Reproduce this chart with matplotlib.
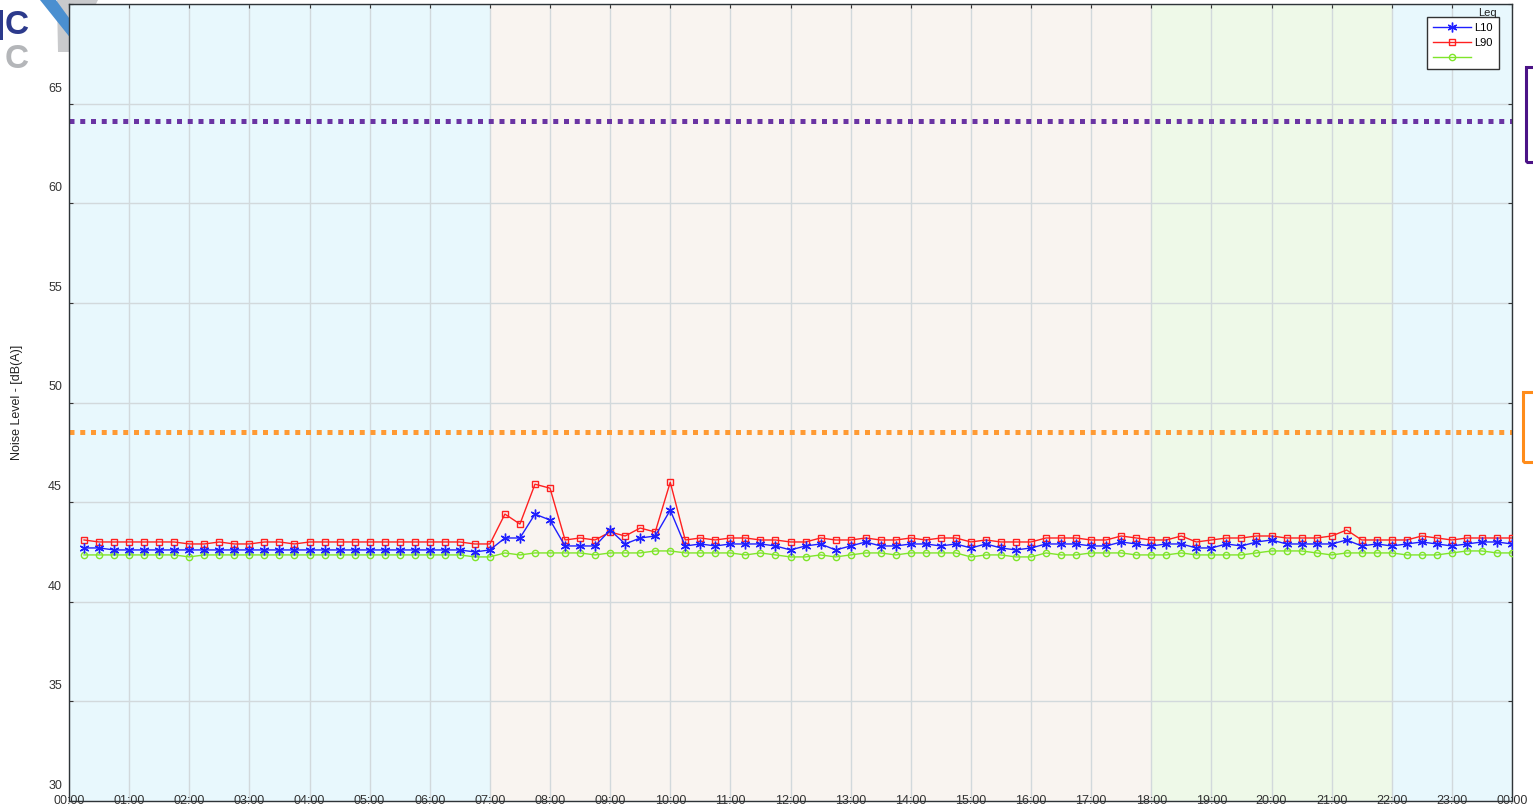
import numpy as np
import matplotlib
matplotlib.use("Agg")
import matplotlib.pyplot as plt
from matplotlib import transforms
from matplotlib.patches import Rectangle, Polygon

plt.rcParams['font.family'] = ['Liberation Sans', 'DejaVu Sans']

# ---------------- data ----------------
# 15-minute intervals, 00:15 ... 24:00 (hours)
times_h = [0.25, 0.5, 0.75, 1.0, 1.25, 1.5, 1.75, 2.0, 2.25, 2.5, 2.75, 3.0,
           3.25, 3.5, 3.75, 4.0, 4.25, 4.5, 4.75, 5.0, 5.25, 5.5, 5.75, 6.0,
           6.25, 6.5, 6.75, 7.0, 7.25, 7.5, 7.75, 8.0, 8.25, 8.5, 8.75, 9.0,
           9.25, 9.5, 9.75, 10.0, 10.25, 10.5, 10.75, 11.0, 11.25, 11.5, 11.75, 12.0,
           12.25, 12.5, 12.75, 13.0, 13.25, 13.5, 13.75, 14.0, 14.25, 14.5, 14.75, 15.0,
           15.25, 15.5, 15.75, 16.0, 16.25, 16.5, 16.75, 17.0, 17.25, 17.5, 17.75, 18.0,
           18.25, 18.5, 18.75, 19.0, 19.25, 19.5, 19.75, 20.0, 20.25, 20.5, 20.75, 21.0,
           21.25, 21.5, 21.75, 22.0, 22.25, 22.5, 22.75, 23.0, 23.25, 23.5, 23.75, 24.0]

L10 = [42.7, 42.7, 42.6, 42.6, 42.6, 42.6, 42.6, 42.6, 42.6, 42.6, 42.6, 42.6,
       42.6, 42.6, 42.6, 42.6, 42.6, 42.6, 42.6, 42.6, 42.6, 42.6, 42.6, 42.6,
       42.6, 42.6, 42.5, 42.6, 43.2, 43.2, 44.4, 44.1, 42.8, 42.8, 42.8, 43.6,
       42.9, 43.2, 43.3, 44.6, 42.8, 42.9, 42.8, 42.9, 42.9, 42.9, 42.8, 42.6,
       42.8, 42.9, 42.6, 42.8, 43.0, 42.8, 42.8, 42.9, 42.9, 42.8, 42.9, 42.7,
       42.9, 42.7, 42.6, 42.7, 42.9, 42.9, 42.9, 42.8, 42.8, 43.0, 42.9, 42.8,
       42.9, 42.9, 42.7, 42.7, 42.9, 42.8, 43.0, 43.1, 42.9, 42.9, 42.9, 42.9,
       43.1, 42.8, 42.9, 42.8, 42.9, 43.0, 42.9, 42.8, 42.9, 43.0, 43.0, 42.9]

L90 = [43.1, 43.0, 43.0, 43.0, 43.0, 43.0, 43.0, 42.9, 42.9, 43.0, 42.9, 42.9,
       43.0, 43.0, 42.9, 43.0, 43.0, 43.0, 43.0, 43.0, 43.0, 43.0, 43.0, 43.0,
       43.0, 43.0, 42.9, 42.9, 44.4, 43.9, 45.9, 45.7, 43.1, 43.2, 43.1, 43.5,
       43.3, 43.7, 43.5, 46.0, 43.1, 43.2, 43.1, 43.2, 43.2, 43.1, 43.1, 43.0,
       43.0, 43.2, 43.1, 43.1, 43.2, 43.1, 43.1, 43.2, 43.1, 43.2, 43.2, 43.0,
       43.1, 43.0, 43.0, 43.0, 43.2, 43.2, 43.2, 43.1, 43.1, 43.3, 43.2, 43.1,
       43.1, 43.3, 43.0, 43.1, 43.2, 43.2, 43.3, 43.3, 43.2, 43.2, 43.2, 43.3,
       43.6, 43.1, 43.1, 43.1, 43.1, 43.3, 43.2, 43.1, 43.2, 43.2, 43.2, 43.2]

Leq = [42.35, 42.35, 42.35, 42.35, 42.35, 42.35, 42.35, 42.25, 42.35, 42.35, 42.35, 42.35,
       42.35, 42.35, 42.35, 42.35, 42.35, 42.35, 42.35, 42.35, 42.35, 42.35, 42.35, 42.35,
       42.35, 42.35, 42.25, 42.25, 42.45, 42.35, 42.45, 42.45, 42.45, 42.45, 42.35, 42.45,
       42.45, 42.45, 42.55, 42.55, 42.45, 42.45, 42.45, 42.45, 42.35, 42.45, 42.35, 42.25,
       42.25, 42.35, 42.25, 42.35, 42.45, 42.45, 42.35, 42.45, 42.45, 42.45, 42.45, 42.25,
       42.35, 42.35, 42.25, 42.25, 42.45, 42.35, 42.35, 42.45, 42.45, 42.45, 42.35, 42.35,
       42.35, 42.45, 42.35, 42.35, 42.35, 42.35, 42.45, 42.55, 42.55, 42.55, 42.45, 42.35,
       42.45, 42.45, 42.45, 42.45, 42.35, 42.35, 42.35, 42.45, 42.55, 42.55, 42.45, 42.45]

limit_upper = 64.15
limit_lower = 48.5

# background periods (start hour, end hour, colour)
period_start = [0, 7, 18, 22]
period_end = [7, 18, 22, 24]
period_color = ['#e8f8fd', '#f9f4f0', '#eef9e8', '#e8f8fd']

hour_ticks = list(range(0, 25))
hour_labels = ['00:00', '01:00', '02:00', '03:00', '04:00', '05:00', '06:00', '07:00',
               '08:00', '09:00', '10:00', '11:00', '12:00', '13:00', '14:00', '15:00',
               '16:00', '17:00', '18:00', '19:00', '20:00', '21:00', '22:00', '23:00', '00:00']
y_ticks = [30, 35, 40, 45, 50, 55, 60, 65]

# ---------------- figure ----------------
W, H = 1533, 811
fig = plt.figure(figsize=(W / 100, H / 100), dpi=100)
fig.patch.set_facecolor('white')

ax = fig.add_axes([69 / W, 10 / H, (1512 - 69) / W, (801 - 4) / H])
ax.set_xlim(0, 24)
ax.set_ylim(30, 70)

for s, e, c in zip(period_start, period_end, period_color):
    ax.axvspan(s, e, color=c, zorder=0, lw=0)

ax.set_axisbelow(True)
ax.set_xticks(hour_ticks)
ax.set_yticks(y_ticks + [70])
ax.grid(True, color='#d2d9dc', lw=1.0)
ax.set_xticklabels([])
ax.set_yticklabels([])
ax.tick_params(axis='x', bottom=False, top=True, direction='in', length=3, color='#333333')
ax.tick_params(axis='y', left=True, right=True, direction='in', length=3, color='#333333')
for sp in ax.spines.values():
    sp.set_color('#2e3438')
    sp.set_linewidth(1.0)

# threshold lines
ax.axhline(limit_upper, color='#6a34a3', lw=3.6, linestyle=(0, (1, 1.15)), zorder=2)
ax.axhline(limit_lower, color='#ff9a33', lw=3.6, linestyle=(0, (1, 1.15)), zorder=2)

# series
lg, = ax.plot(times_h, Leq, color='#7fe52a', lw=1.0, marker='o', ms=4.5,
              mfc='none', mec='#7fe52a', mew=1.0, zorder=3)
lr, = ax.plot(times_h, L90, color='#ff2020', lw=1.0, marker='s', ms=4.3,
              mfc='none', mec='#ff2020', mew=1.0, zorder=4)
lb, = ax.plot(times_h, L10, color='#1f1fff', lw=1.0, marker=(6, 2, 0), ms=7,
              mec='#1f1fff', mew=1.0, zorder=5)

# y tick labels (drawn above their grid lines)
ytr = transforms.offset_copy(ax.get_yaxis_transform(), fig=fig, x=-7, y=15, units='dots')
for v in y_ticks:
    ax.text(0, v, str(v), transform=ytr, ha='right', va='center', fontsize=9,
            color='#333333', clip_on=False)

# x tick labels centred on the bottom axis line
for h, lab in zip(hour_ticks, hour_labels):
    ax.text(h, 0, lab, transform=ax.get_xaxis_transform(), ha='center', va='center',
            fontsize=9, color='#333333', clip_on=False, zorder=2)

ax.set_ylabel('Noise Level - [dB(A)]', fontsize=9, color='#222222')
ax.yaxis.set_label_coords(17 / W, (811 - 402) / H, transform=fig.transFigure)
ax.yaxis.label.set_verticalalignment('center')

# legend
leg = ax.legend([lb, lr, lg], ['L10', 'L90', ''], loc='upper right',
                bbox_to_anchor=(1499 / W, 1 - 17 / H), bbox_transform=fig.transFigure,
                fontsize=8, frameon=True, fancybox=False, framealpha=1,
                edgecolor='#333333', borderaxespad=0, handlelength=3.4,
                handletextpad=0.35, labelspacing=0.42, borderpad=0.55, numpoints=1)
leg.get_frame().set_linewidth(1.0)
fig.text(1487 / W, 1 - 13 / H, 'Leq', fontsize=8, ha='center', va='center', color='#222222')

# partial annotation boxes on the right edge
fig.patches.append(Rectangle((1526 / W, 1 - 162 / H), 20 / W, 95 / H, fill=False,
                             edgecolor='#4b1386', lw=2.2, transform=fig.transFigure))
fig.patches.append(Rectangle((1523 / W, 1 - 462 / H), 20 / W, 70 / H, fill=False,
                             edgecolor='#ff8c1a', lw=2.2, transform=fig.transFigure))

# partial logo in the top-left corner (behind the axes)
fig.patches.append(Polygon([(57 / W, 1.0), (98 / W, 1.0), (72 / W, 1 - 52 / H), (58 / W, 1 - 52 / H)],
                           closed=True, facecolor='#c9cacc', edgecolor='none',
                           transform=fig.transFigure, zorder=-2))
fig.patches.append(Polygon([(40 / W, 1.0), (56 / W, 1.0), (72 / W, 1 - 22 / H), (72 / W, 1 - 40 / H)],
                           closed=True, facecolor='#4a8fd0', edgecolor='none',
                           transform=fig.transFigure, zorder=-1))
fig.text(17 / W, 1 - 25 / H, 'C', fontsize=24, ha='center', va='center', color='#2c3a8c',
         fontweight='bold')
fig.text(17 / W, 1 - 60 / H, 'C', fontsize=24, ha='center', va='center', color='#b4b6b9',
         fontweight='bold')
fig.patches.append(Rectangle((0, 1 - 40 / H), 3 / W, 30 / H, facecolor='#2c3a8c',
                             edgecolor='none', transform=fig.transFigure))

fig.savefig('out.png', dpi=100)
